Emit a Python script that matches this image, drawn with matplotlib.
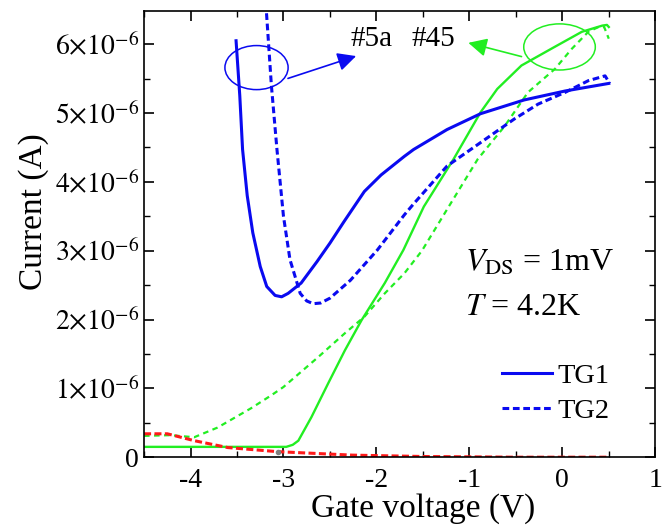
import numpy as np
import matplotlib
matplotlib.use('Agg')
import matplotlib.pyplot as plt
from matplotlib import font_manager
from matplotlib.patches import Ellipse
from matplotlib.ticker import MultipleLocator, FuncFormatter

installed = {f.name for f in font_manager.fontManager.ttflist}
serif = [n for n in ['Liberation Serif', 'Times New Roman', 'Nimbus Roman', 'DejaVu Serif']
         if n in installed]
plt.rcParams['font.family'] = 'serif'
plt.rcParams['font.serif'] = serif + ['DejaVu Serif']
plt.rcParams['mathtext.fontset'] = 'stix'

# device #5a, TG1 (blue solid)
x_5a_tg1 = [-3.51, -3.47, -3.44, -3.39, -3.33, -3.25, -3.18, -3.09, -3.02, -2.95,
            -2.81, -2.64, -2.50, -2.35, -2.13, -1.95, -1.70, -1.60, -1.24, -0.88,
            -0.41, 0.03, 0.50]
y_5a_tg1 = [6.05, 5.25, 4.47, 3.80, 3.26, 2.77, 2.48, 2.35, 2.33, 2.38,
            2.53, 2.84, 3.11, 3.42, 3.86, 4.10, 4.37, 4.47, 4.76, 4.99,
            5.19, 5.32, 5.43]

# device #5a, TG2 (blue dashed)
x_5a_tg2 = [-3.19, -3.13, -3.07, -3.00, -2.93, -2.82, -2.75, -2.68, -2.60, -2.50,
            -2.28, -1.99, -1.70, -1.60, -1.24, -0.88, -0.52, -0.26, 0.03, 0.28,
            0.46, 0.51]
y_5a_tg2 = [6.60, 5.40, 4.47, 3.50, 2.87, 2.38, 2.27, 2.23, 2.24, 2.31,
            2.57, 3.01, 3.52, 3.68, 4.23, 4.57, 4.91, 5.13, 5.30, 5.47,
            5.54, 5.43]

# device #45, TG1 (green solid)
x_45_tg1 = [-4.50, -3.50, -2.97, -2.90, -2.84, -2.70, -2.52, -2.34, -2.16, -1.91,
            -1.71, -1.49, -1.17, -0.88, -0.70, -0.44, -0.11, 0.21, 0.43, 0.48, 0.50]
y_45_tg1 = [0.15, 0.15, 0.15, 0.18, 0.24, 0.58, 1.07, 1.55, 1.99, 2.53,
            3.01, 3.64, 4.33, 5.01, 5.35, 5.69, 5.94, 6.18, 6.27, 6.28, 6.25]

# device #45, TG2 (green dashed)
x_45_tg2 = [-4.50, -4.22, -3.96, -3.71, -3.35, -3.13, -3.00, -2.63, -2.34, -2.13,
            -1.91, -1.70, -1.51, -1.24, -0.91, -0.62, -0.37, -0.08, 0.10, 0.28,
            0.39, 0.45, 0.50]
y_45_tg2 = [0.31, 0.32, 0.29, 0.43, 0.71, 0.90, 1.02, 1.45, 1.80, 2.04,
            2.38, 2.67, 3.00, 3.60, 4.33, 4.81, 5.30, 5.64, 5.93, 6.18,
            6.25, 6.25, 6.08]

# red dashed
x_red = [-4.50, -4.25, -3.96, -3.60, -3.06, -2.26, -1.50, -0.50, 0.50]
y_red = [0.34, 0.34, 0.24, 0.14, 0.08, 0.03, 0.01, 0.0, 0.0]

scale = 1e-6
blue = '#0a0af0'
green = '#22ee22'
red = '#ff1a1a'

fig = plt.figure(figsize=(6.7, 5.31), dpi=100)
ax = fig.add_axes([0.215, 0.139, 0.763, 0.840])

ax.plot(x_45_tg1, np.array(y_45_tg1) * scale, color=green, lw=1.7)
ax.plot(x_45_tg2, np.array(y_45_tg2) * scale, color=green, lw=1.6, ls=(0, (2.5, 2)))
ax.plot(x_red, np.array(y_red) * scale, color=red, lw=2.2, ls=(0, (2.3, 1.1)))
l1, = ax.plot(x_5a_tg1, np.array(y_5a_tg1) * scale, color=blue, lw=2.2, label='TG1')
l2, = ax.plot(x_5a_tg2, np.array(y_5a_tg2) * scale, color=blue, lw=2.2,
              ls=(0, (2.2, 1.2)), label='TG2')
ax.plot([-3.06], [0.08 * scale], 'o', color='grey', ms=3)

ax.set_xlim(-4.5, 1)
ax.set_ylim(0, 6.48e-6)

ax.xaxis.set_major_locator(MultipleLocator(1))
ax.xaxis.set_minor_locator(MultipleLocator(0.5))
ax.yaxis.set_major_locator(MultipleLocator(1e-6))
ax.yaxis.set_minor_locator(MultipleLocator(0.5e-6))


def yfmt(v, pos):
    n = int(round(v / 1e-6))
    if n == 0:
        return '0'
    return r'$%d{\times}10^{-6}$' % n


ax.yaxis.set_major_formatter(FuncFormatter(yfmt))
ax.xaxis.set_major_formatter(FuncFormatter(lambda v, p: '%d' % round(v)))
ax.tick_params(which='both', direction='in', top=True, right=True, labelsize=20)
ax.tick_params(which='major', length=7, width=1.2)
ax.tick_params(which='minor', length=4, width=1.0)
ax.tick_params(axis='x', pad=8)
for s in ax.spines.values():
    s.set_linewidth(1.2)

ax.set_xlabel('Gate voltage (V)', fontsize=24, labelpad=0, x=0.545)
ax.set_ylabel('Current (A)', fontsize=24, labelpad=4, y=0.55)

ax.text(-1.05, 2.82e-6, r'$V_{\mathrm{DS}}$ = 1mV', fontsize=23, va='center')
ax.text(-1.05, 2.18e-6, r'$T$ = 4.2K', fontsize=23, va='center')

# annotations
ax.add_patch(Ellipse((-3.29, 5.66e-6), 0.68, 0.64e-6, fill=False, ec=blue, lw=1.1))
ax.annotate('', xy=(-2.19, 5.84e-6), xytext=(-2.98, 5.49e-6),
            arrowprops=dict(arrowstyle='-|>', color=blue, lw=1.2, mutation_scale=28))
ax.add_patch(Ellipse((-0.03, 5.96e-6), 0.77, 0.67e-6, fill=False, ec=green, lw=1.1))
ax.annotate('', xy=(-1.04, 6.03e-6), xytext=(-0.41, 5.81e-6),
            arrowprops=dict(arrowstyle='-|>', color=green, lw=1.2, mutation_scale=28))
ax.text(-2.28, 6.08e-6, '#5a', fontsize=21, va='center')
ax.text(-1.62, 6.08e-6, '#45', fontsize=21, va='center')

ax.legend(handles=[l1, l2], loc='center left', bbox_to_anchor=(0.70, 0.143),
          frameon=False, fontsize=20.5, handlelength=1.75, handletextpad=0.2,
          labelspacing=0.3, borderaxespad=0, borderpad=0)

fig.savefig('out.png', dpi=100)
